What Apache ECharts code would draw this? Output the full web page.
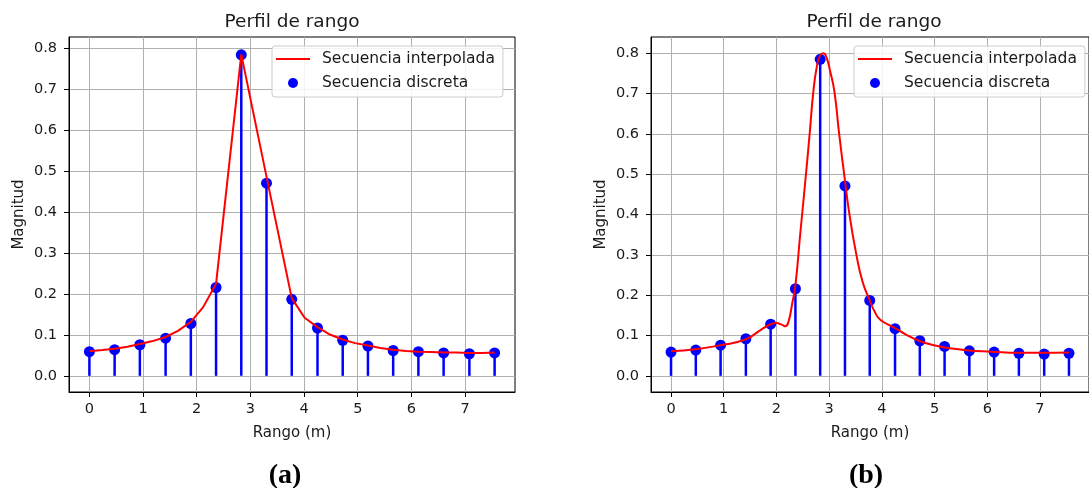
<!DOCTYPE html>
<html>
<head>
<meta charset="utf-8">
<script src="https://cdn.jsdelivr.net/npm/echarts@6/dist/echarts.min.js"></script>
<style>
html,body{margin:0;padding:0;background:#fff;}
#c{width:1089px;height:488px;}
</style>
</head>
<body>
<div id="c"></div>
<script>
// ---- data ----
const rangeX = [0, 0.47, 0.94, 1.42, 1.89, 2.36, 2.83, 3.30, 3.77, 4.25, 4.72, 5.19, 5.66, 6.13, 6.60, 7.08, 7.55];
const discreteMag = [0.059, 0.064, 0.076, 0.092, 0.128, 0.216, 0.785, 0.471, 0.187, 0.117, 0.087, 0.073, 0.062, 0.059, 0.056, 0.054, 0.056];

// (a) interpolated sequence
const interpAX = [0.00, 0.24, 0.47, 0.71, 0.94, 1.18, 1.42, 1.65, 1.89, 2.12, 2.36, 2.83, 3.30, 3.77, 4.01, 4.25, 4.48, 4.72, 4.95, 5.19, 5.42, 5.66, 5.90, 6.13, 6.37, 6.60, 6.84, 7.08, 7.31, 7.55];
const interpAY = [0.060, 0.063, 0.066, 0.071, 0.078, 0.085, 0.095, 0.110, 0.132, 0.168, 0.225, 0.786, 0.487, 0.190, 0.142, 0.119, 0.101, 0.089, 0.080, 0.074, 0.068, 0.064, 0.061, 0.059, 0.058, 0.057, 0.057, 0.056, 0.056, 0.057];

// (b) interpolated sequence
const interpBX = [0.00, 0.47, 0.94, 1.41, 1.69, 1.89, 2.00, 2.10, 2.17, 2.23, 2.30, 2.36, 2.45, 2.56, 2.63, 2.70, 2.77, 2.83, 2.89, 2.95, 3.02, 3.10, 3.19, 3.29, 3.38, 3.51, 3.63, 3.76, 3.88, 3.98, 4.23, 4.45, 4.70, 5.01, 5.33, 5.64, 6.08, 6.58, 7.02, 7.55];
const interpBY = [0.061, 0.066, 0.076, 0.090, 0.113, 0.128, 0.131, 0.127, 0.123, 0.135, 0.180, 0.225, 0.350, 0.500, 0.600, 0.705, 0.770, 0.795, 0.800, 0.790, 0.755, 0.705, 0.600, 0.495, 0.405, 0.305, 0.235, 0.190, 0.155, 0.138, 0.120, 0.103, 0.087, 0.075, 0.068, 0.063, 0.060, 0.057, 0.057, 0.058];

const xTicks = [0, 1, 2, 3, 4, 5, 6, 7];
const yTicks = [0.0, 0.1, 0.2, 0.3, 0.4, 0.5, 0.6, 0.7, 0.8];
const titleText = 'Perfil de rango';
const xName = 'Rango (m)';
const yName = 'Magnitud';
const nameLine = 'Secuencia interpolada';
const nameDots = 'Secuencia discreta';
const captions = ['(a)', '(b)'];

// ---- build ----
const FONT = 'DejaVu Sans';
const TXT = '#1a1a1a';
const pairs = (xs, ys) => xs.map((x, i) => [x, ys[i]]);

function xAxisCfg(idx) {
  return {
    type: 'value', gridIndex: idx, min: -0.38, max: 7.93,
    name: xName, nameLocation: 'middle', nameGap: 34,
    nameTextStyle: {fontFamily: FONT, fontSize: 15, color: TXT},
    axisLine: {show: true, onZero: false, lineStyle: {color: '#000', width: 1}},
    axisTick: {show: true, length: 5, inside: false, customValues: xTicks, lineStyle: {color: '#000'}},
    axisLabel: {customValues: xTicks, margin: 10, fontFamily: FONT, fontSize: 14.5, color: TXT, formatter: v => String(Math.round(v))},
    splitLine: {show: true, lineStyle: {color: '#b0b0b0', width: 1}}
  };
}
function yAxisCfg(idx, mn, mx) {
  return {
    type: 'value', gridIndex: idx, min: mn, max: mx,
    name: yName, nameLocation: 'middle', nameGap: 42, nameRotate: 90,
    nameTextStyle: {fontFamily: FONT, fontSize: 15, color: TXT},
    axisLine: {show: true, onZero: false, lineStyle: {color: '#000', width: 1}},
    axisTick: {show: true, length: 5, inside: false, customValues: yTicks, lineStyle: {color: '#000'}},
    axisLabel: {customValues: yTicks, margin: 12, fontFamily: FONT, fontSize: 14.5, color: TXT, formatter: v => v.toFixed(1)},
    splitLine: {show: true, lineStyle: {color: '#b0b0b0', width: 1}}
  };
}
function legendCfg(left) {
  return {
    left: left, top: 46, orient: 'vertical',
    padding: [5, 8, 6, 4], itemGap: 8,
    itemWidth: 34, itemHeight: 10,
    backgroundColor: 'rgba(255,255,255,0.85)', borderColor: '#cccccc', borderWidth: 1, borderRadius: 3,
    textStyle: {fontFamily: FONT, fontSize: 15.5, color: TXT, padding: [0, 0, 0, 7]},
    data: [
      {name: nameLine, icon: 'path://M0,0 L34,0 L34,2 L0,2 Z', itemStyle: {color: '#ff0000'}},
      {name: nameDots, icon: 'circle'}
    ],
    selectedMode: false
  };
}
function seriesFor(idx, lx, ly, smooth) {
  return [
    {type: 'bar', name: 'stems' + idx, xAxisIndex: idx, yAxisIndex: idx, barWidth: 2.5,
     itemStyle: {color: '#0000ff'}, data: pairs(rangeX, discreteMag), silent: true, z: 2},
    {type: 'scatter', name: nameDots, xAxisIndex: idx, yAxisIndex: idx, symbol: 'circle', symbolSize: 11,
     itemStyle: {color: '#0000ff', opacity: 1}, data: pairs(rangeX, discreteMag), z: 3},
    {type: 'line', name: nameLine, xAxisIndex: idx, yAxisIndex: idx, showSymbol: false, symbol: 'none',
     smooth: smooth,
     lineStyle: {color: '#ff0000', width: 2}, itemStyle: {color: '#ff0000'},
     data: pairs(lx, ly), z: 4}
  ];
}

const option = {
  backgroundColor: '#ffffff',
  animation: false,
  title: [
    {text: titleText, left: 292, top: 22, textAlign: 'center', textVerticalAlign: 'middle', padding: 0,
     textStyle: {fontFamily: FONT, fontSize: 18.5, fontWeight: 'normal', color: TXT}},
    {text: titleText, left: 874, top: 22, textAlign: 'center', textVerticalAlign: 'middle', padding: 0,
     textStyle: {fontFamily: FONT, fontSize: 18.5, fontWeight: 'normal', color: TXT}},
    {text: captions[0], left: 285, top: 476, textAlign: 'center', textVerticalAlign: 'middle', padding: 0,
     textStyle: {fontFamily: 'Liberation Serif', fontSize: 28, fontWeight: 'bold', color: '#000'}},
    {text: captions[1], left: 866, top: 476, textAlign: 'center', textVerticalAlign: 'middle', padding: 0,
     textStyle: {fontFamily: 'Liberation Serif', fontSize: 28, fontWeight: 'bold', color: '#000'}}
  ],
  legend: [legendCfg(272), legendCfg(854)],
  grid: [
    {left: 69, top: 37, width: 446, height: 355, show: true, borderColor: '#000', borderWidth: 1, backgroundColor: 'transparent'},
    {left: 651, top: 37, width: 446, height: 355, show: true, borderColor: '#000', borderWidth: 1, backgroundColor: 'transparent'}
  ],
  xAxis: [xAxisCfg(0), xAxisCfg(1)],
  yAxis: [yAxisCfg(0, -0.0395, 0.8285), yAxisCfg(1, -0.0401, 0.8405)],
  series: [].concat(seriesFor(0, interpAX, interpAY, false), seriesFor(1, interpBX, interpBY, 0.5))
};

const chart = echarts.init(document.getElementById('c'), null, {renderer: 'canvas'});
chart.setOption(option);
</script>
</body>
</html>
